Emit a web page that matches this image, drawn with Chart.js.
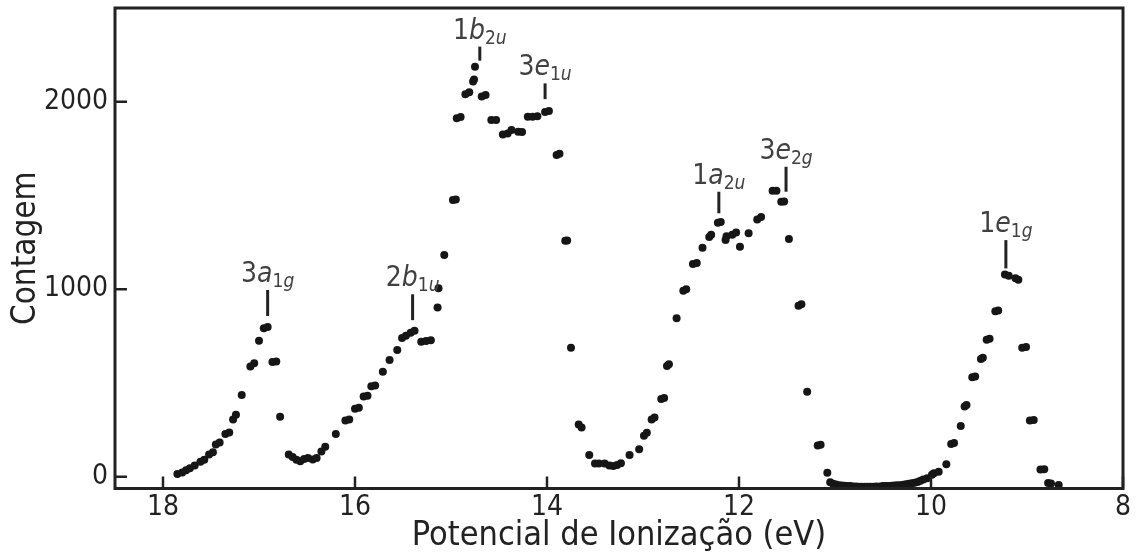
<!DOCTYPE html>
<html>
<head>
<meta charset="utf-8">
<script src="https://cdn.jsdelivr.net/npm/chart.js@4.4.0/dist/chart.umd.min.js"></script>
<style>
  html, body { margin: 0; padding: 0; background: #fff; }
</style>
</head>
<body>
<canvas id="spectrum" width="1138" height="556"></canvas>
<script>
// photoelectron spectrum: ionization energy (eV) vs counts
const energies = [
  17.85, 17.80, 17.76, 17.72, 17.67, 17.61, 17.57, 17.52, 17.48, 17.45,
  17.41, 17.35, 17.31, 17.27, 17.24, 17.18, 17.09, 17.05, 17.00, 16.95,
  16.91, 16.86, 16.82, 16.78, 16.69, 16.65, 16.61, 16.57, 16.53, 16.49,
  16.44, 16.40, 16.35, 16.31, 16.20, 16.10, 16.06, 16.00, 15.96, 15.91,
  15.87, 15.83, 15.79, 15.71, 15.64, 15.56, 15.51, 15.47, 15.42, 15.38,
  15.31, 15.26, 15.21, 15.14, 15.13, 15.07, 14.98, 14.95, 14.94, 14.90,
  14.85, 14.81, 14.77, 14.76, 14.75, 14.68, 14.64, 14.58, 14.53, 14.46,
  14.41, 14.37, 14.30, 14.26, 14.20, 14.15, 14.10, 14.02, 13.98, 13.90,
  13.87, 13.81, 13.79, 13.75, 13.67, 13.64, 13.56, 13.50, 13.46, 13.40,
  13.35, 13.31, 13.27, 13.23, 13.14, 13.04, 12.99, 12.96, 12.91, 12.88,
  12.81, 12.78, 12.75, 12.73, 12.65, 12.58, 12.55, 12.48, 12.44, 12.38,
  12.31, 12.29, 12.22, 12.19, 12.14, 12.13, 12.07, 12.03, 11.99, 11.90,
  11.81, 11.77, 11.65, 11.61, 11.56, 11.53, 11.48, 11.38, 11.35, 11.29,
  11.18, 11.15, 11.08, 11.05, 11.02, 10.99, 10.96, 10.93, 10.90, 10.87,
  10.84, 10.81, 10.78, 10.75, 10.72, 10.69, 10.66, 10.63, 10.60, 10.57,
  10.53, 10.50, 10.47, 10.44, 10.41, 10.38, 10.35, 10.32, 10.29, 10.26,
  10.23, 10.20, 10.17, 10.14, 10.11, 10.08, 10.04, 9.99, 9.97, 9.92,
  9.84, 9.79, 9.76, 9.69, 9.65, 9.63, 9.57, 9.54, 9.48, 9.46,
  9.42, 9.39, 9.33, 9.30, 9.23, 9.19, 9.12, 9.09, 9.05, 9.01,
  8.97, 8.93, 8.86, 8.82, 8.78, 8.75, 8.67
];
const counts = [
  15, 22, 35, 45, 60, 80, 90, 118, 130, 172,
  182, 228, 236, 305, 330, 436, 588, 605, 725, 792,
  798, 612, 614, 320, 118, 105, 90, 82, 95, 100,
  92, 100, 135, 160, 228, 300, 305, 362, 368, 428,
  432, 482, 487, 560, 622, 676, 740, 752, 768, 778,
  720, 724, 728, 903, 1005, 1182, 1476, 1478, 1912, 1918,
  2040, 2050, 2108, 2118, 2187, 2028, 2036, 1902, 1902, 1825,
  1830, 1849, 1840, 1838, 1920, 1920, 1922, 1945, 1950, 1716,
  1722, 1258, 1260, 688, 278, 262, 116, 71, 70, 70,
  60, 57, 63, 72, 116, 146, 218, 234, 305, 316,
  415, 420, 590, 600, 845, 992, 1000, 1135, 1140, 1221,
  1278, 1290, 1355, 1358, 1262, 1282, 1290, 1302, 1227, 1298,
  1372, 1385, 1525, 1525, 1467, 1468, 1268, 912, 920, 453,
  166, 170, 21, -30, -38, -42, -45, -47, -48, -50,
  -50, -52, -52, -53, -53, -54, -54, -53, -53, -52,
  -52, -50, -50, -49, -48, -47, -46, -45, -43, -40,
  -38, -35, -32, -28, -22, -15, -8, 10, 18, 27,
  66, 175, 180, 270, 375, 382, 530, 535, 628, 634,
  730, 736, 882, 886, 1078, 1072, 1058, 1050, 688, 692,
  300, 302, 38, 40, -34, -36, -44
];

const xTickValues = [18, 16, 14, 12, 10, 8];
const yTickValues = [0, 1000, 2000];

// orbital labels: number, symmetry letter, subscript
const bandNumber = ['3', '2', '1', '3', '1', '3', '1'];
const bandSymbol = ['a', 'b', 'b', 'e', 'a', 'e', 'e'];
const bandSub = ['1g', '1u', '2u', '1u', '2u', '2g', '1g'];
const bandEnergy = [16.91, 15.40, 14.70, 14.02, 12.21, 11.51, 9.22];
const bandMarkLow = [857, 835, 2219, 2014, 1405, 1520, 1111];
const bandMarkHigh = [996, 973, 2294, 2098, 1520, 1653, 1262];

const FAMILY = '"DejaVu Sans Condensed", "DejaVu Sans", sans-serif';
const INK = '#222222';

function drawBandLabel(ctx, cx, baseline, i) {
  const parts = [
    { t: bandNumber[i], f: '28px ' + FAMILY, dy: 0 },
    { t: bandSymbol[i], f: 'italic 28px ' + FAMILY, dy: 0 },
    { t: bandSub[i][0], f: '19px ' + FAMILY, dy: 5 },
    { t: bandSub[i][1], f: 'italic 19px ' + FAMILY, dy: 5 }
  ];
  let total = 0;
  parts.forEach(p => { ctx.font = p.f; p.w = ctx.measureText(p.t).width; total += p.w; });
  let x = cx - total / 2;
  parts.forEach(p => {
    ctx.font = p.f;
    ctx.fillText(p.t, x, baseline + p.dy);
    x += p.w;
  });
}

const frame = {
  id: 'frame',
  afterDatasetsDraw(chart) {
    const { ctx, chartArea: a, scales: { x, y } } = chart;
    ctx.save();
    ctx.strokeStyle = INK;
    ctx.lineWidth = 3;
    ctx.strokeRect(a.left, a.top, a.right - a.left, a.bottom - a.top);

    // inward tick marks
    ctx.lineWidth = 2.5;
    ctx.beginPath();
    x.ticks.forEach(t => {
      const px = x.getPixelForValue(t.value);
      ctx.moveTo(px, a.bottom);
      ctx.lineTo(px, a.bottom - 12);
    });
    y.ticks.forEach(t => {
      const py = y.getPixelForValue(t.value);
      ctx.moveTo(a.left, py);
      ctx.lineTo(a.left + 12, py);
    });
    ctx.stroke();

    // band markers and labels
    bandEnergy.forEach((e, i) => {
      const px = x.getPixelForValue(e);
      const top = y.getPixelForValue(bandMarkHigh[i]);
      const bottom = y.getPixelForValue(bandMarkLow[i]);
      ctx.strokeStyle = INK;
      ctx.lineWidth = 3;
      ctx.beginPath();
      ctx.moveTo(px, bottom);
      ctx.lineTo(px, top);
      ctx.stroke();
      ctx.fillStyle = '#404040';
      ctx.textBaseline = 'alphabetic';
      drawBandLabel(ctx, px, top - 8, i);
    });
    ctx.restore();
  }
};

new Chart(document.getElementById('spectrum'), {
  type: 'scatter',
  data: {
    datasets: [{
      data: energies.map((e, i) => ({ x: e, y: counts[i] })),
      backgroundColor: '#161616',
      borderWidth: 0,
      pointRadius: 4,
      pointHoverRadius: 4
    }]
  },
  options: {
    responsive: false,
    animation: false,
    devicePixelRatio: 1,
    layout: { padding: { top: 8, right: 15, left: 0, bottom: 0 } },
    plugins: { legend: { display: false }, tooltip: { enabled: false } },
    scales: {
      x: {
        type: 'linear',
        reverse: true,
        min: 8,
        max: 18.5,
        afterBuildTicks: s => { s.ticks = xTickValues.map(v => ({ value: v })); },
        afterFit: s => { s.height = 67.5; s.paddingLeft = 0; s.paddingRight = 0; },
        grid: { display: false, drawTicks: false, tickLength: 0 },
        border: { display: false },
        ticks: {
          padding: 2, color: INK, font: { family: FAMILY, size: 28 },
          callback: v => String(v)
        },
        title: {
          display: true,
          text: 'Potencial de Ionização (eV)',
          color: INK,
          font: { family: FAMILY, size: 34 },
          padding: { top: 0, bottom: -1 }
        }
      },
      y: {
        type: 'linear',
        min: -63,
        max: 2500,
        afterBuildTicks: s => { s.ticks = yTickValues.map(v => ({ value: v })); },
        afterFit: s => { s.width = 115; s.paddingTop = 0; s.paddingBottom = 0; },
        grid: { display: false, drawTicks: false, tickLength: 0 },
        border: { display: false },
        ticks: {
          padding: 7, color: INK, font: { family: FAMILY, size: 28 },
          callback: v => String(v)
        },
        title: {
          display: true,
          text: 'Contagem',
          color: INK,
          font: { family: FAMILY, size: 33 },
          padding: { top: 7, bottom: 0 }
        }
      }
    }
  },
  plugins: [frame]
});
</script>
</body>
</html>
